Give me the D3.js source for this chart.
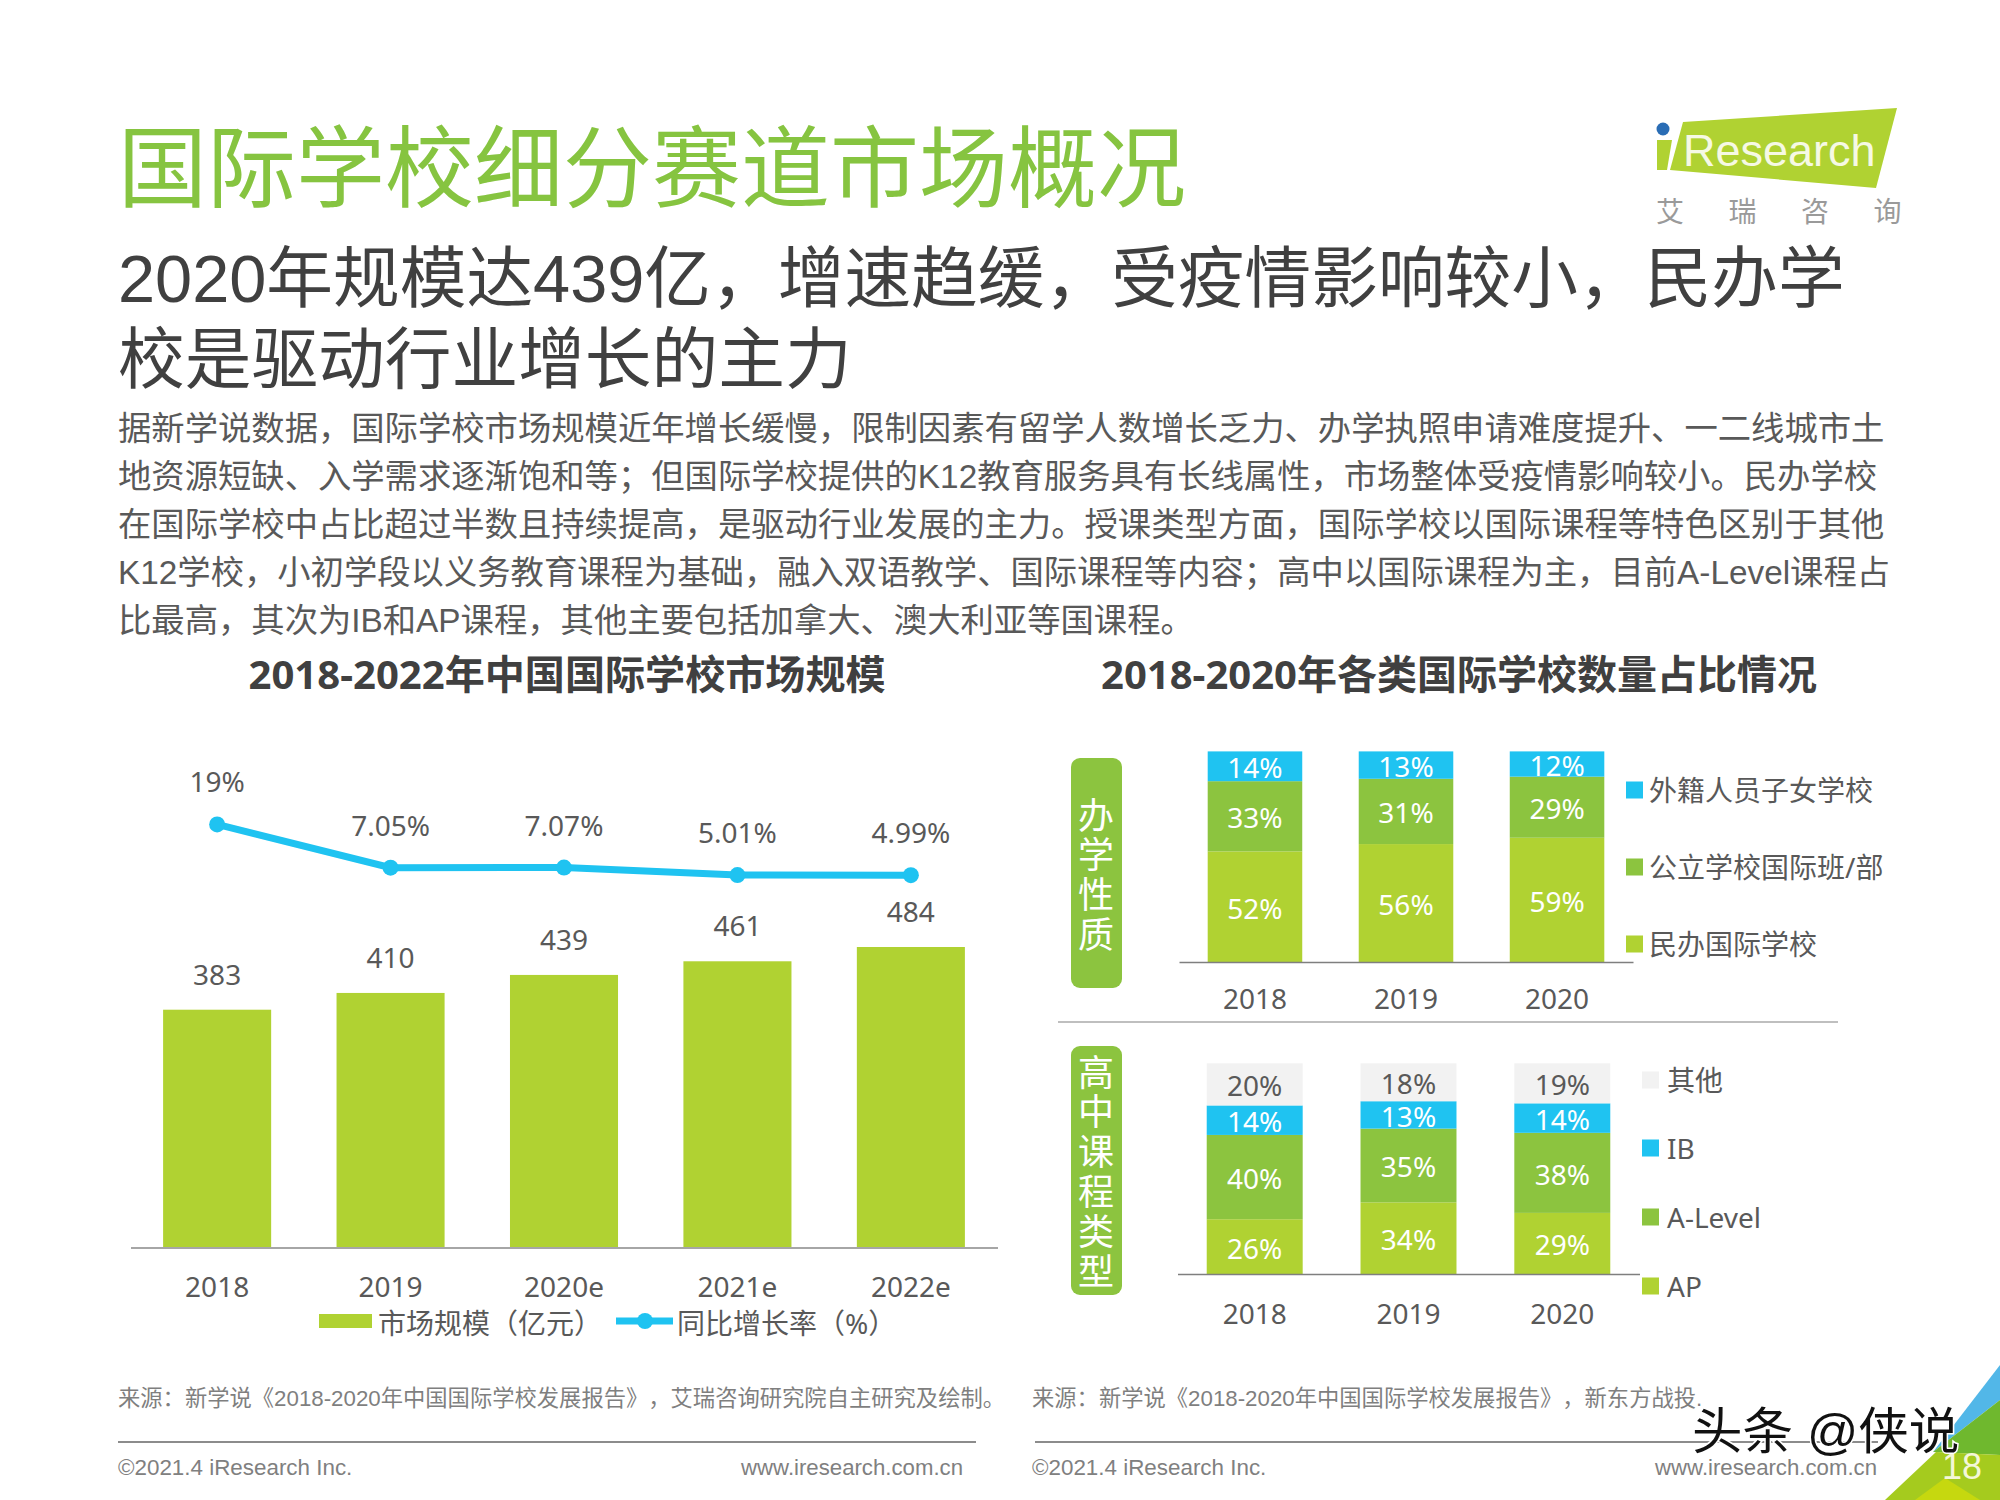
<!DOCTYPE html>
<html>
<head>
<meta charset="utf-8">
<script src="https://cdn.jsdelivr.net/npm/d3@7"></script>
<style>
  body { margin: 0; background: #fff; }
  svg { display: block; }
  text { font-family: "Liberation Sans", "Noto Sans CJK SC", sans-serif; text-spacing-trim: space-all; }
  .yh text, text.yh { font-family: "Noto Sans", "Noto Sans CJK SC", sans-serif; }
</style>
</head>
<body>
<div id="chart"></div>
<script>
// left chart
var marketYears = ["2018", "2019", "2020e", "2021e", "2022e"];
var marketSize = [383, 410, 439, 461, 484];
var growthRate = [19, 7.05, 7.07, 5.01, 4.99];
var growthLabels = ["19%", "7.05%", "7.07%", "5.01%", "4.99%"];

// right charts
var shareYears = ["2018", "2019", "2020"];
var privateSchool = [52, 56, 59];
var publicSchool = [33, 31, 29];
var foreignSchool = [14, 13, 12];
var courseAP = [26, 34, 29];
var courseALevel = [40, 35, 38];
var courseIB = [14, 13, 14];
var courseOther = [20, 18, 19];

var schoolLegend = ["民办国际学校", "公立学校国际班/部", "外籍人员子女学校"];
var courseLegend = ["AP", "A-Level", "IB", "其他"];

var titleText = "国际学校细分赛道市场概况";
var subtitleLines = ["2020年规模达439亿，增速趋缓，受疫情影响较小，民办学", "校是驱动行业增长的主力"];
var bodyLines = [
  "据新学说数据，国际学校市场规模近年增长缓慢，限制因素有留学人数增长乏力、办学执照申请难度提升、一二线城市土",
  "地资源短缺、入学需求逐渐饱和等；但国际学校提供的K12教育服务具有长线属性，市场整体受疫情影响较小。民办学校",
  "在国际学校中占比超过半数且持续提高，是驱动行业发展的主力。授课类型方面，国际学校以国际课程等特色区别于其他",
  "K12学校，小初学段以义务教育课程为基础，融入双语教学、国际课程等内容；高中以国际课程为主，目前A-Level课程占",
  "比最高，其次为IB和AP课程，其他主要包括加拿大、澳大利亚等国课程。"
];

var lime = "#b0d232", green = "#8cc43f", blue = "#1fc3f1", pale = "#f2f2f2";
var textGray = "#595959";

var svg = d3.select("#chart").append("svg")
    .attr("width", 2000)
    .attr("height", 1500);

function label(g, x, y, str, size, fill, anchor) {
  return g.append("text")
      .attr("x", x).attr("y", y)
      .attr("dominant-baseline", "central")
      .attr("text-anchor", anchor || "start")
      .attr("font-size", size)
      .attr("fill", fill)
      .text(str);
}

// one text element per paragraph, one tspan per line
function paragraph(g, x, y, lines, step, size, fill) {
  var t = g.append("text").attr("font-size", size).attr("fill", fill);
  t.selectAll("tspan")
    .data(lines)
    .enter().append("tspan")
      .attr("x", x)
      .attr("y", function(d, i) { return y + i * step; })
      .attr("dominant-baseline", "central")
      .text(function(d) { return d; });
  return t;
}

// header
label(svg, 118, 168.5, titleText, 89, "#86c440");
paragraph(svg, 118, 279, subtitleLines, 81, 66.7, "#404040");
paragraph(svg, 118, 428, bodyLines, 48, 33.35, textGray);

// logo
var logo = svg.append("g");
logo.append("polygon").attr("points", "1683,122 1897,108 1876,188 1670,170").attr("fill", lime);
logo.append("polygon").attr("points", "1657,140 1672,140 1667,170 1657,170").attr("fill", lime);
logo.append("circle").attr("cx", 1663).attr("cy", 129).attr("r", 6.5).attr("fill", "#2a6db5");
logo.append("text").attr("x", 1683).attr("y", 166).attr("font-size", 45).attr("fill", "#f6f9e4").text("Research");
["艾", "瑞", "咨", "询"].forEach(function(s, i) {
  label(logo, 1670 + i * 72.5, 212, s, 28, "#9a9a9a", "middle");
});

// chart titles
label(svg, 567, 673, "2018-2022年中国国际学校市场规模", 40.1, "#404040", "middle").attr("font-weight", "bold").attr("class", "yh");
label(svg, 1459, 673, "2018-2020年各类国际学校数量占比情况", 40, "#404040", "middle").attr("font-weight", "bold").attr("class", "yh");

// market size bars + growth line
var left = svg.append("g").attr("class", "yh");

var x = d3.scaleBand().domain(marketYears).range([130.5, 997.5]).paddingInner(0.377).paddingOuter(0.188);
var yBar = d3.scaleLinear().domain([0, 484]).range([1247.5, 947]);
var yLine = d3.scaleLinear().domain([0, 19]).range([893.2, 824.4]);

left.selectAll("rect.bar")
  .data(marketSize)
  .enter().append("rect")
    .attr("class", "bar")
    .attr("x", function(d, i) { return x(marketYears[i]); })
    .attr("y", function(d) { return yBar(d); })
    .attr("width", x.bandwidth())
    .attr("height", function(d) { return yBar(0) - yBar(d); })
    .attr("fill", lime);

left.selectAll("text.barval")
  .data(marketSize)
  .enter().append("text")
    .attr("class", "barval")
    .attr("x", function(d, i) { return x(marketYears[i]) + x.bandwidth() / 2; })
    .attr("y", function(d) { return yBar(d) - 36; })
    .attr("dominant-baseline", "central")
    .attr("text-anchor", "middle")
    .attr("font-size", 28)
    .attr("fill", textGray)
    .text(function(d) { return d; });

var leftAxis = left.append("g")
    .attr("transform", "translate(0,1247.5)")
    .call(d3.axisBottom(x).tickSize(0).tickPadding(30));
leftAxis.select(".domain").attr("stroke", "#a6a6a6").attr("stroke-width", 2);
leftAxis.selectAll("text").attr("font-size", 28).attr("fill", textGray).attr("font-family", "Noto Sans");

var line = d3.line()
    .x(function(d, i) { return x(marketYears[i]) + x.bandwidth() / 2; })
    .y(function(d) { return yLine(d); });

left.append("path")
    .datum(growthRate)
    .attr("d", line)
    .attr("fill", "none")
    .attr("stroke", blue)
    .attr("stroke-width", 7);

left.selectAll("circle.pt")
  .data(growthRate)
  .enter().append("circle")
    .attr("class", "pt")
    .attr("cx", function(d, i) { return x(marketYears[i]) + x.bandwidth() / 2; })
    .attr("cy", function(d) { return yLine(d); })
    .attr("r", 8)
    .attr("fill", blue);

left.selectAll("text.rate")
  .data(growthRate)
  .enter().append("text")
    .attr("class", "rate")
    .attr("x", function(d, i) { return x(marketYears[i]) + x.bandwidth() / 2; })
    .attr("y", function(d) { return yLine(d) - 43; })
    .attr("dominant-baseline", "central")
    .attr("text-anchor", "middle")
    .attr("font-size", 28)
    .attr("fill", textGray)
    .text(function(d, i) { return growthLabels[i]; });

// left legend
left.append("rect").attr("x", 319).attr("y", 1314).attr("width", 53).attr("height", 14).attr("fill", lime);
label(left, 378, 1323, "市场规模（亿元）", 28, textGray);
left.append("line").attr("x1", 616).attr("x2", 673).attr("y1", 1321).attr("y2", 1321).attr("stroke", blue).attr("stroke-width", 7);
left.append("circle").attr("cx", 645).attr("cy", 1321).attr("r", 8).attr("fill", blue);
label(left, 677, 1323, "同比增长率（%）", 28, textGray);

// stacked share charts
function stackedChart(cfg) {
  var g = svg.append("g").attr("class", "yh");
  var rows = cfg.years.map(function(y, i) {
    var r = { year: y };
    cfg.series.forEach(function(s) { r[s.name] = s.values[i]; });
    return r;
  });
  var stacked = d3.stack()
      .keys(cfg.series.map(function(s) { return s.name; }))
      .offset(d3.stackOffsetExpand)(rows);

  var sx = d3.scaleBand().domain(cfg.years).range(cfg.xRange).paddingInner(cfg.pad).paddingOuter(cfg.outer);
  var sy = d3.scaleLinear().domain([0, 1]).range(cfg.yRange);

  stacked.forEach(function(layer, k) {
    var s = cfg.series[k];
    g.selectAll("rect.s" + k)
      .data(layer)
      .enter().append("rect")
        .attr("class", "s" + k)
        .attr("x", function(d) { return sx(d.data.year); })
        .attr("y", function(d) { return sy(d[1]); })
        .attr("width", sx.bandwidth())
        .attr("height", function(d) { return sy(d[0]) - sy(d[1]); })
        .attr("fill", s.color);
    g.selectAll("text.s" + k)
      .data(layer)
      .enter().append("text")
        .attr("class", "s" + k)
        .attr("x", function(d) { return sx(d.data.year) + sx.bandwidth() / 2; })
        .attr("y", function(d) { return (sy(d[0]) + sy(d[1])) / 2 + 1; })
        .attr("dominant-baseline", "central")
        .attr("text-anchor", "middle")
        .attr("font-size", 28)
        .attr("fill", s.labelColor || "#fff")
        .text(function(d) { return d.data[s.name] + "%"; });
  });

  var axis = g.append("g")
      .attr("transform", "translate(0," + cfg.yRange[0] + ")")
      .call(d3.axisBottom(sx).tickSize(0).tickPadding(cfg.tickPad));
  axis.select(".domain").attr("stroke", "#7f7f7f").attr("stroke-width", 1.5);
  axis.selectAll("text").attr("font-size", 28).attr("fill", textGray).attr("font-family", "Noto Sans");

  // side pill with vertical caption
  g.append("rect")
      .attr("x", 1071).attr("y", cfg.pill[0])
      .attr("width", 51).attr("height", cfg.pill[1] - cfg.pill[0])
      .attr("rx", 9)
      .attr("fill", green);
  g.append("text")
      .attr("x", 1093.5).attr("y", cfg.captionY)
      .attr("font-size", 36)
      .attr("fill", "#fff")
      .style("writing-mode", "vertical-rl")
      .style("letter-spacing", "3.8px")
      .text(cfg.caption);

  // legend
  cfg.series.forEach(function(s, i) {
    g.append("rect")
        .attr("x", cfg.legendX).attr("y", cfg.legendY[i] - 8.5)
        .attr("width", 17).attr("height", 17)
        .attr("fill", s.color);
    label(g, cfg.legendX + cfg.legendGap, cfg.legendY[i], s.name, 28, textGray);
  });
}

stackedChart({
  years: shareYears,
  caption: "办学性质",
  captionY: 797,
  pill: [758, 988],
  xRange: [1179, 1633],
  pad: 0.374,
  outer: 0.19,
  tickPad: 27,
  yRange: [962, 751.4],
  legendX: 1626,
  legendGap: 23,
  legendY: [944, 867, 790],
  series: [
    { name: schoolLegend[0], values: privateSchool, color: lime },
    { name: schoolLegend[1], values: publicSchool, color: green },
    { name: schoolLegend[2], values: foreignSchool, color: blue }
  ]
});

stackedChart({
  years: shareYears,
  caption: "高中课程类型",
  captionY: 1054,
  pill: [1046, 1295],
  xRange: [1177.5, 1639.5],
  pad: 0.376,
  outer: 0.19,
  tickPad: 30,
  yRange: [1274, 1063.3],
  legendX: 1642,
  legendGap: 25,
  legendY: [1286, 1217, 1148, 1080],
  series: [
    { name: courseLegend[0], values: courseAP, color: lime },
    { name: courseLegend[1], values: courseALevel, color: green },
    { name: courseLegend[2], values: courseIB, color: blue },
    { name: courseLegend[3], values: courseOther, color: pale, labelColor: textGray }
  ]
});

// separator between the two share charts
svg.append("line").attr("x1", 1058).attr("x2", 1838).attr("y1", 1022).attr("y2", 1022)
    .attr("stroke", "#bfbfbf").attr("stroke-width", 2);

// sources and footer
label(svg, 118, 1398, "来源：新学说《2018-2020年中国国际学校发展报告》，艾瑞咨询研究院自主研究及绘制。", 22.3, "#7f7f7f");
label(svg, 1032, 1398, "来源：新学说《2018-2020年中国国际学校发展报告》，新东方战投.", 22.3, "#7f7f7f");

[[118, 976], [1035, 1878]].forEach(function(r) {
  svg.append("line").attr("x1", r[0]).attr("x2", r[1]).attr("y1", 1442).attr("y2", 1442)
      .attr("stroke", "#8c8c8c").attr("stroke-width", 2);
});

label(svg, 118, 1467, "©2021.4 iResearch Inc.", 22.4, "#808080");
label(svg, 963, 1467, "www.iresearch.com.cn", 22.2, "#808080", "end");
label(svg, 1032, 1467, "©2021.4 iResearch Inc.", 22.4, "#808080");
label(svg, 1877, 1467, "www.iresearch.com.cn", 22.2, "#808080", "end");

// corner decoration
svg.append("polygon").attr("points", "2000,1365 1933,1452 2000,1400").attr("fill", "#52b7e8");
svg.append("polygon").attr("points", "2000,1400 1933,1452 2000,1455").attr("fill", "#6fb82e");
svg.append("polygon").attr("points", "1885,1500 1936,1452 2000,1455 2000,1500").attr("fill", "#a5cb1e");
svg.append("polygon").attr("points", "1915,1500 1945,1478 1980,1500").attr("fill", "#c6d80f");
label(svg, 1962, 1466, "18", 36, "#f4f7d8", "middle");

// watermark
label(svg, 1692, 1431, "头条 @侠说", 50.5, "#111")
    .attr("stroke", "#fff")
    .attr("stroke-width", 3)
    .attr("paint-order", "stroke");
</script>
</body>
</html>
